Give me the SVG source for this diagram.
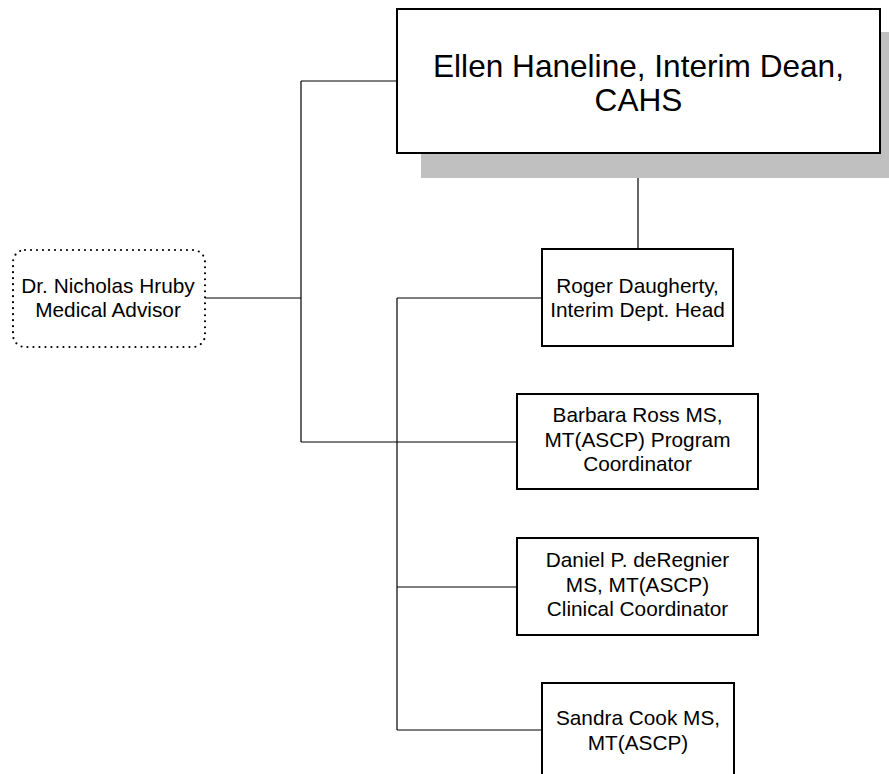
<svg xmlns="http://www.w3.org/2000/svg" width="889" height="774" viewBox="0 0 889 774">
<style>
.box{fill:#fff;stroke:#000;stroke-width:2}
.dot{fill:#fff;stroke:#000;stroke-width:2.2;stroke-dasharray:0 6;stroke-linecap:round}
.shadow{fill:#c0c0c0}
.t{font-family:"Liberation Sans",Arial,Helvetica,sans-serif;font-size:20.8px;fill:#000;text-anchor:middle}
.big{font-size:31.6px}
.conn line{stroke:#000;stroke-width:1.2}
</style>
<rect width="889" height="774" fill="#fff"/>
<g class="conn">
<line x1="638" y1="153" x2="638" y2="249"/>
<line x1="301" y1="81" x2="397" y2="81"/>
<line x1="301" y1="81" x2="301" y2="442"/>
<line x1="205" y1="298" x2="301" y2="298"/>
<line x1="301" y1="442" x2="517" y2="442"/>
<line x1="397" y1="298" x2="542" y2="298"/>
<line x1="397" y1="298" x2="397" y2="730"/>
<line x1="397" y1="587" x2="517" y2="587"/>
<line x1="397" y1="730" x2="542" y2="730"/>
</g>
<g id="dean">
<rect class="shadow" x="421" y="32" width="468" height="146"/>
<rect class="box" x="397" y="9" width="483" height="144"/>
<text class="t big" x="638.5" y="77">Ellen Haneline, Interim Dean,</text>
<text class="t big" x="638.5" y="110.5">CAHS</text>
</g>
<g id="advisor">
<rect class="dot" x="13" y="250" width="192" height="97" rx="12"/>
<text class="t" x="108" y="293">Dr. Nicholas Hruby</text>
<text class="t" x="108" y="317">Medical Advisor</text>
</g>
<g id="head">
<rect class="box" x="542" y="249" width="191" height="97"/>
<text class="t" x="637.5" y="293">Roger Daugherty,</text>
<text class="t" x="637.5" y="317">Interim Dept. Head</text>
</g>
<g id="program">
<rect class="box" x="517" y="394" width="241" height="95"/>
<text class="t" x="637.5" y="422">Barbara Ross MS,</text>
<text class="t" x="637.5" y="446.5">MT(ASCP) Program</text>
<text class="t" x="637.5" y="471">Coordinator</text>
</g>
<g id="clinical">
<rect class="box" x="517" y="538" width="241" height="97"/>
<text class="t" x="637.5" y="567">Daniel P. deRegnier</text>
<text class="t" x="637.5" y="591.5">MS, MT(ASCP)</text>
<text class="t" x="637.5" y="616">Clinical Coordinator</text>
</g>
<g id="sandra">
<rect class="box" x="542" y="683" width="192" height="110"/>
<text class="t" x="638" y="725">Sandra Cook MS,</text>
<text class="t" x="638" y="750">MT(ASCP)</text>
</g>
</svg>
